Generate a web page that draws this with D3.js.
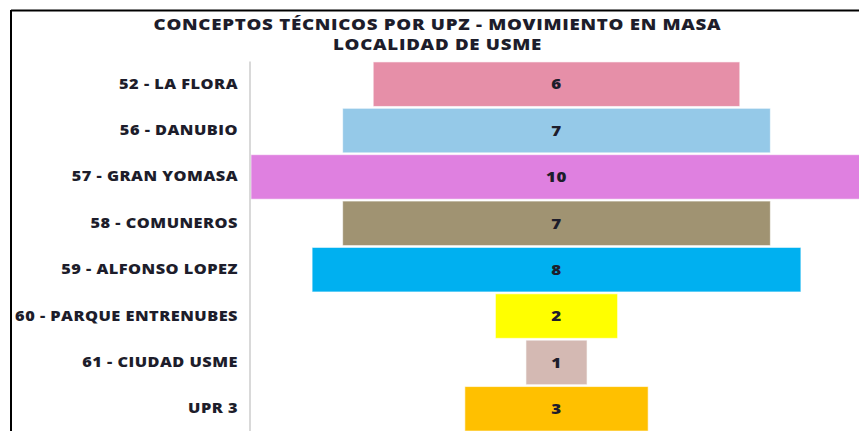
<!DOCTYPE html>
<html>
<head>
<meta charset="utf-8">
<script src="https://cdn.jsdelivr.net/npm/d3@7"></script>
<style>
  body { margin: 0; background: #fff; }
  svg { display: block; }
  text { font-family: "Open Sans", Lato, sans-serif; font-weight: 800; fill: #1d1d2b; }
</style>
</head>
<body>
<svg width="859" height="431"></svg>
<script>
// Data
const upz = ["52 - LA FLORA", "56 - DANUBIO", "57 - GRAN YOMASA", "58 - COMUNEROS",
    "59 - ALFONSO LOPEZ", "60 - PARQUE ENTRENUBES", "61 - CIUDAD USME", "UPR 3"];
const conceptos = [6, 7, 10, 7, 8, 2, 1, 3];
const colores = ["#e68fa8", "#95c9e8", "#df80e0", "#a09372", "#00b0f0", "#ffff00", "#d4b9b3", "#ffc000"];
const titulo = ["CONCEPTOS TÉCNICOS POR UPZ - MOVIMIENTO EN MASA", "LOCALIDAD DE USME"];

const data = upz.map((u, i) => ({ upz: u, valor: conceptos[i], color: colores[i] }));

const svg = d3.select("svg");
const W = 859, H = 431;
const stretch = 1.17; // the original font (Calibri) runs wider than Open Sans

// Frame (top and left edges visible)
svg.append("line").attr("x1", 11).attr("x2", W).attr("y1", 10.5).attr("y2", 10.5)
    .attr("stroke", "#000").attr("stroke-width", 2);
svg.append("line").attr("x1", 11).attr("x2", 11).attr("y1", 10).attr("y2", H)
    .attr("stroke", "#000").attr("stroke-width", 2);

// Scales - bars are centred (funnel)
const x = d3.scaleLinear()
    .domain([-5, 5])
    .range([251, 862]);

const y = d3.scaleBand()
    .domain(upz)
    .range([61, 432])
    .paddingInner(0.04)
    .paddingOuter(0.02);

const g = svg.append("g");

// Bars
g.selectAll(".bar")
    .data(data)
    .enter().append("rect")
    .attr("class", "bar")
    .attr("x", d => x(-d.valor / 2))
    .attr("width", d => x(d.valor / 2) - x(-d.valor / 2))
    .attr("y", d => y(d.upz))
    .attr("height", y.bandwidth())
    .attr("fill", d => d.color)
    .attr("stroke", "#ffffff")
    .attr("stroke-opacity", 0.6)
    .attr("stroke-width", 1);

// Value labels
g.selectAll(".valor")
    .data(data)
    .enter().append("text")
    .attr("class", "valor")
    .attr("transform", d => `translate(${x(0)},${y(d.upz) + y.bandwidth() / 2}) scale(${stretch},1)`)
    .attr("dy", "0.36em")
    .attr("text-anchor", "middle")
    .style("font-size", "14.5px")
    .style("letter-spacing", "0.5px")
    .text(d => d.valor);

// Category axis
const axis = svg.append("g")
    .attr("transform", "translate(249.5,0)")
    .call(d3.axisLeft(y).tickSize(0).tickPadding(11.5 / stretch));
axis.select(".domain").attr("stroke", "#d9d9d9").attr("stroke-width", 2);
axis.selectAll("text")
    .attr("transform", `scale(${stretch},1)`)
    .style("font-family", "'Open Sans', Lato, sans-serif")
    .style("font-weight", 800)
    .style("font-size", "14px")
    .style("letter-spacing", "0.4px")
    .attr("fill", "#1d1d2b");

// Title
svg.selectAll(".titulo")
    .data(titulo)
    .enter().append("text")
    .attr("class", "titulo")
    .attr("transform", (d, i) => `translate(437.5,${30 + i * 20}) scale(${stretch},1)`)
    .attr("text-anchor", "middle")
    .style("font-size", "16px")
    .style("letter-spacing", "0.6px")
    .text(d => d);
</script>
</body>
</html>
